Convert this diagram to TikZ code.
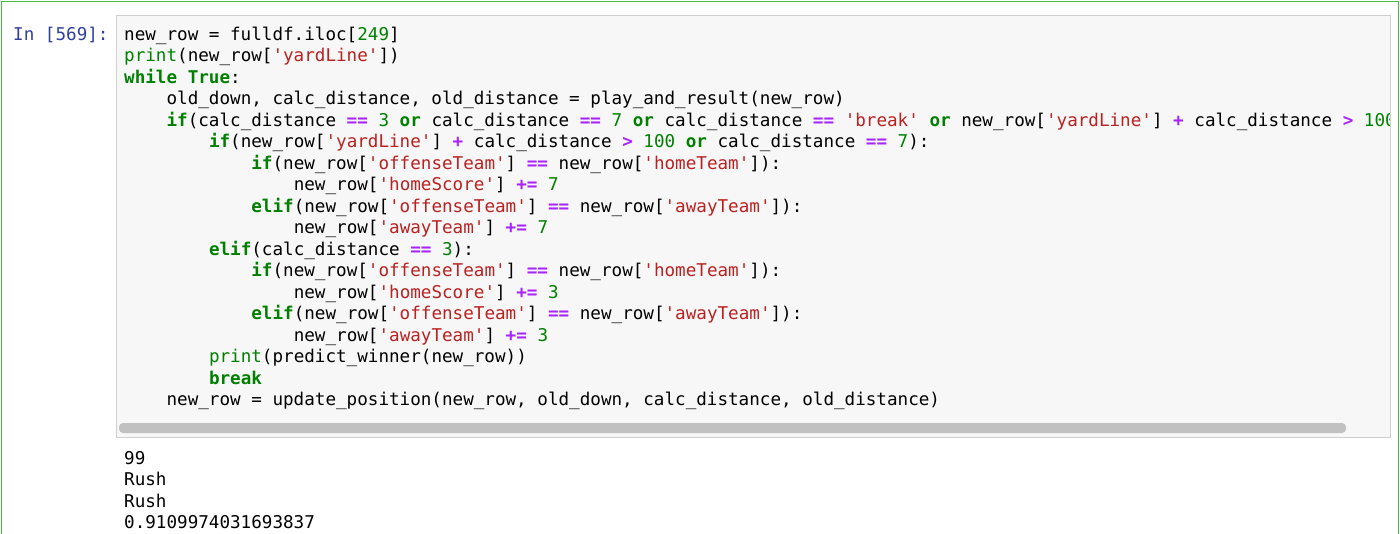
\documentclass[tikz,border=0pt]{standalone}
\usepackage{fontspec}
\newfontfamily\code{DejaVu Sans Mono}
\definecolor{kwc}{HTML}{008000}
\definecolor{stc}{HTML}{BA2121}
\definecolor{opc}{HTML}{AA22FF}
\definecolor{promptc}{HTML}{303F9F}
\definecolor{cellg}{HTML}{42BD42}
\definecolor{boxbg}{HTML}{F7F7F7}
\definecolor{boxbd}{HTML}{CFCFCF}
\definecolor{thumb}{HTML}{C1C1C1}
\newcommand{\kw}[1]{\textcolor{kwc}{\bfseries #1}}
\newcommand{\op}[1]{\textcolor{opc}{\bfseries #1}}
\newcommand{\st}[1]{\textcolor{stc}{#1}}
\newcommand{\nm}[1]{\textcolor{kwc}{#1}}
\newcommand{\bi}[1]{\textcolor{kwc}{#1}}
\tikzset{ln/.style={anchor=base west,inner sep=0pt,font=\code\fontsize{17.6}{20}\selectfont}}
\begin{document}
\begin{tikzpicture}[x=1pt,y=-1pt]
\useasboundingbox (0,0) rectangle (1400,533);
\fill[white] (0,0) rectangle (1400,533);
\draw[cellg,line width=1.3] (1.5,540) -- (1.5,1.5) -- (1398.5,1.5) -- (1398.5,540);
\node[ln,text=promptc] (prompt) at (13,40) {In [569]:};
\draw[fill=boxbg,draw=boxbd] (116,15) rectangle (1390,437);
\fill[thumb,rounded corners=4] (119,423) rectangle (1346,433);
\begin{scope}
\clip (117,16) rectangle (1389,420);
\def\cx{124}\def\ind{42.4}
\node[ln] (l1) at (\cx,40) {new\_row = fulldf.iloc[\nm{249}]};
\node[ln] (l2) at (\cx,61.5) {\bi{print}(new\_row[\st{'yardLine'}])};
\node[ln] (l3) at (\cx,83) {\kw{while} \kw{True}:};
\node[ln] (l4) at (\cx+\ind,104.5) {old\_down, calc\_distance, old\_distance = play\_and\_result(new\_row)};
\node[ln] (l5) at (\cx+\ind,126) {\kw{if}(calc\_distance \op{==} \nm{3} \kw{or} calc\_distance \op{==} \nm{7} \kw{or} calc\_distance \op{==} \st{'break'} \kw{or} new\_row[\st{'yardLine'}] \op{+} calc\_distance \op{>} \nm{100}};
\node[ln] (l6) at (\cx+2*\ind,147.5) {\kw{if}(new\_row[\st{'yardLine'}] \op{+} calc\_distance \op{>} \nm{100} \kw{or} calc\_distance \op{==} \nm{7}):};
\node[ln] (l7) at (\cx+3*\ind,169) {\kw{if}(new\_row[\st{'offenseTeam'}] \op{==} new\_row[\st{'homeTeam'}]):};
\node[ln] (l8) at (\cx+4*\ind,190.5) {new\_row[\st{'homeScore'}] \op{+=} \nm{7}};
\node[ln] (l9) at (\cx+3*\ind,212) {\kw{elif}(new\_row[\st{'offenseTeam'}] \op{==} new\_row[\st{'awayTeam'}]):};
\node[ln] (l10) at (\cx+4*\ind,233.5) {new\_row[\st{'awayTeam'}] \op{+=} \nm{7}};
\node[ln] (l11) at (\cx+2*\ind,255) {\kw{elif}(calc\_distance \op{==} \nm{3}):};
\node[ln] (l12) at (\cx+3*\ind,276.5) {\kw{if}(new\_row[\st{'offenseTeam'}] \op{==} new\_row[\st{'homeTeam'}]):};
\node[ln] (l13) at (\cx+4*\ind,298) {new\_row[\st{'homeScore'}] \op{+=} \nm{3}};
\node[ln] (l14) at (\cx+3*\ind,319.5) {\kw{elif}(new\_row[\st{'offenseTeam'}] \op{==} new\_row[\st{'awayTeam'}]):};
\node[ln] (l15) at (\cx+4*\ind,341) {new\_row[\st{'awayTeam'}] \op{+=} \nm{3}};
\node[ln] (l16) at (\cx+2*\ind,362.5) {\bi{print}(predict\_winner(new\_row))};
\node[ln] (l17) at (\cx+2*\ind,384) {\kw{break}};
\node[ln] (l18) at (\cx+\ind,405.5) {new\_row = update\_position(new\_row, old\_down, calc\_distance, old\_distance)};
\end{scope}
\node[ln] (o1) at (124,464) {99};
\node[ln] (o2) at (124,485.5) {Rush};
\node[ln] (o3) at (124,507) {Rush};
\node[ln] (o4) at (124,528.5) {0.9109974031693837};
\end{tikzpicture}
\end{document}
